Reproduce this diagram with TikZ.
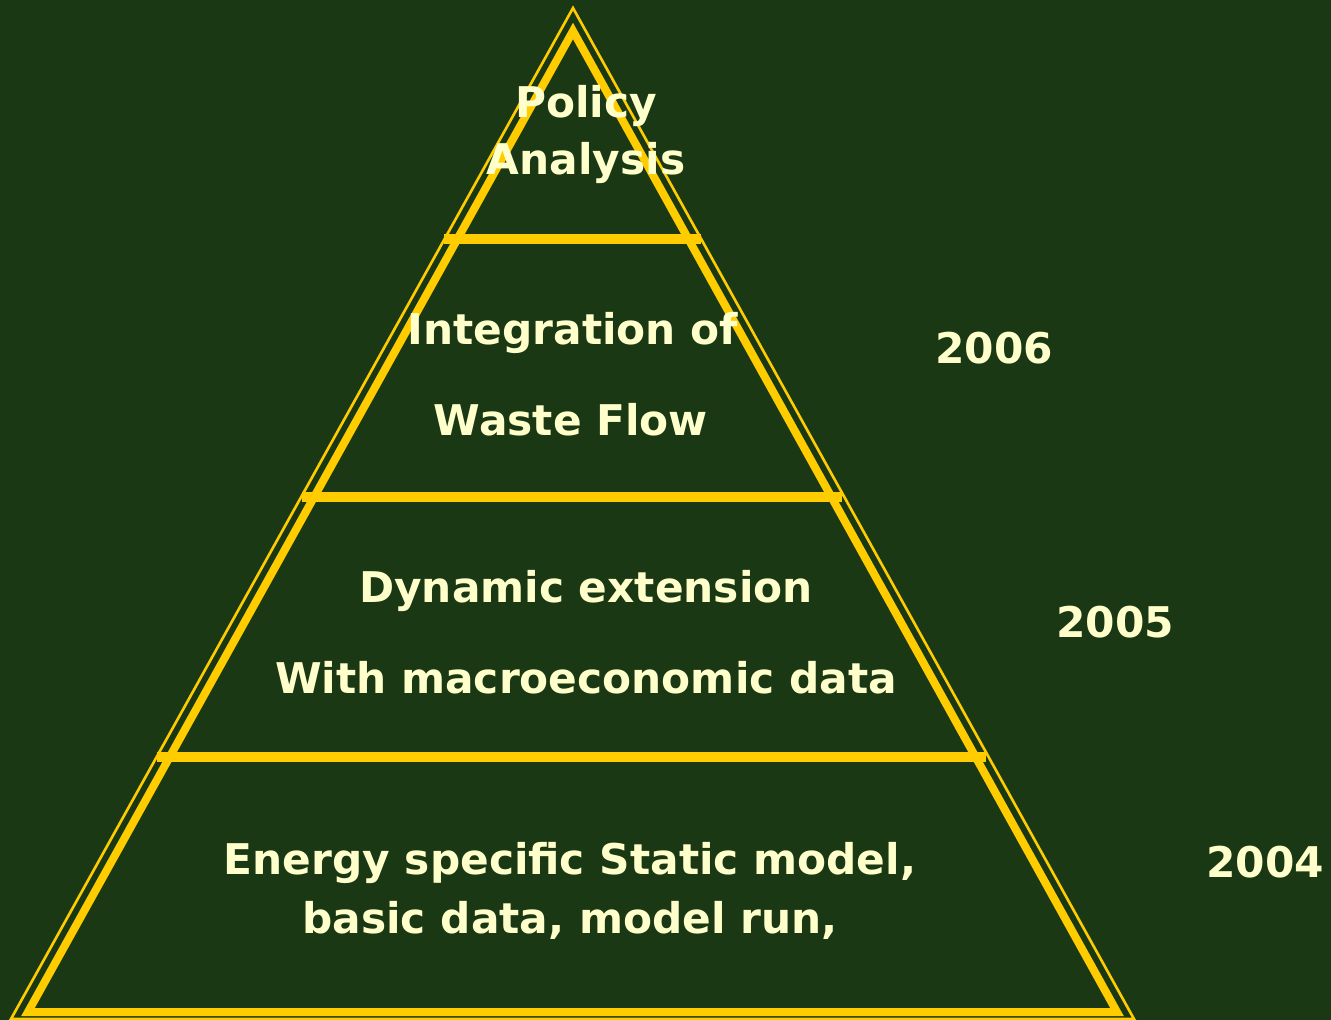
\documentclass[tikz,border=0pt]{standalone}
\usepackage{fontspec}
\setmainfont{DejaVu Sans}
\definecolor{bg}{RGB}{26,56,20}
\definecolor{gold}{RGB}{255,204,0}
\definecolor{txt}{RGB}{255,255,204}
\begin{document}
\begin{tikzpicture}[x=1pt,y=-1pt,
  thinline/.style={draw=gold,line width=2.6pt,line join=miter},
  thickline/.style={draw=gold,line width=8pt,line join=miter},
  band/.style={draw=gold,line width=10pt},
  lbl/.style={text=txt,font=\fontsize{42.3}{50}\selectfont\bfseries,inner sep=0pt,anchor=center}]
\fill[bg] (0,0) rectangle (1331,1020);
\useasboundingbox (0,0) rectangle (1331,1020);
% pyramid outlines
\draw[thinline] (573,8) -- (1134,1019) -- (11,1019) -- cycle;
\draw[thickline] (573,31) -- (1117,1012) -- (28,1012) -- cycle;
% band separators
\draw[band] (444,239) -- (701,239);
\draw[band] (302,497) -- (842,497);
\draw[band] (157,757) -- (986,757);
% texts
\node[lbl] (p1) at (586,106) {Policy};
\node[lbl] (p2) at (586,163) {Analysis};
\node[lbl] (i1) at (573,333) {Integration of};
\node[lbl] (i2) at (571,420) {Waste Flow};
\node[lbl] (d1) at (586,591) {Dynamic extension};
\node[lbl] (d2) at (586,678) {With macroeconomic data};
\node[lbl] (e1) at (570,863) {Energy specific Static model,};
\node[lbl] (e2) at (570,920) {basic data, model run,};
\node[lbl] (y6) at (994,348) {2006};
\node[lbl] (y5) at (1115,622) {2005};
\node[lbl] (y4) at (1265,862) {2004};
\end{tikzpicture}
\end{document}
